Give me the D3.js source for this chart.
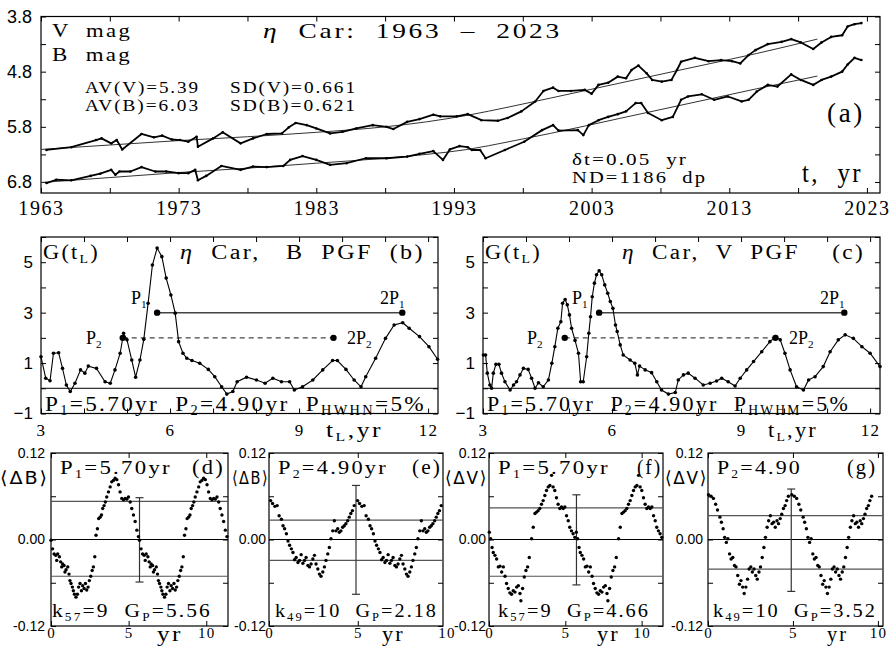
<!DOCTYPE html>
<html><head><meta charset="utf-8">
<script src="https://cdn.jsdelivr.net/npm/d3@7"></script>
<style>body{margin:0;background:#fff}</style>
</head><body>
<svg id="c" width="894" height="651" xmlns="http://www.w3.org/2000/svg"></svg>
<script>
// ---------------- DATA ----------------
// (a) light curves
const tV = [1963.4,1965.2,1967.0,1967.4,1968.1,1968.5,1968.9,1970.3,1971.2,1971.8,1972.5,1973.1,1973.7,1974.3,1974.4,1975.5,1976.2,1977.5,1978.4,1979.4,1980.5,1981.0,1981.5,1982.3,1983.0,1984.0,1984.9,1985.9,1987.1,1988.1,1988.6,1989.6,1990.5,1991.5,1992.0,1993.2,1994.0,1995.0,1996.2,1996.9,1997.9,1998.9,1999.5,2000.2,2000.6,2001.5,2002.5,2003.0,2003.5,2004.2,2004.9,2005.5,2005.9,2006.4,2007.0,2007.4,2008.1,2008.8,2009.2,2009.5,2010.5,2011.5,2012.4,2013.2,2013.8,2014.4,2014.9,2015.8,2016.8,2017.5,2018.2,2019.1,2019.7,2020.4,2021.2,2021.6,2022.1,2022.6];
const magV = [6.22,6.17,6.04,6.01,6.10,6.04,6.21,5.93,5.99,5.96,6.03,6.04,6.07,5.98,6.16,6.01,5.90,6.10,6.01,5.93,5.92,5.81,5.73,5.77,5.83,5.92,5.89,5.83,5.77,5.80,5.84,5.71,5.66,5.58,5.61,5.61,5.57,5.68,5.69,5.64,5.52,5.34,5.15,5.09,5.15,5.15,5.13,5.20,5.04,5.00,4.89,4.92,4.77,4.69,4.83,4.95,4.98,4.95,4.77,4.62,4.55,4.61,4.59,4.61,4.65,4.50,4.41,4.30,4.26,4.21,4.27,4.39,4.27,4.17,4.14,3.98,3.94,3.92];
const tB = [1963.4,1964.1,1965.2,1966.6,1967.3,1968.1,1968.4,1968.7,1969.5,1970.3,1971.3,1972.1,1973.0,1973.7,1974.2,1974.4,1975.0,1976.1,1977.5,1978.4,1979.4,1980.6,1981.1,1982.0,1983.0,1984.0,1985.2,1986.6,1988.1,1989.6,1990.5,1991.5,1992.2,1992.7,1993.4,1994.0,1994.3,1994.9,1995.3,1996.7,1998.1,1999.4,2000.2,2000.6,2002.0,2002.4,2002.8,2003.5,2004.2,2004.9,2005.5,2006.2,2006.6,2007.1,2008.1,2008.9,2009.5,2010.0,2011.0,2011.9,2012.9,2013.9,2014.4,2015.0,2015.8,2016.5,2017.5,2018.2,2019.1,2019.7,2020.4,2021.2,2021.6,2022.1,2022.6];
const magB = [6.82,6.76,6.77,6.69,6.65,6.58,6.67,6.61,6.61,6.53,6.61,6.61,6.64,6.64,6.58,6.77,6.69,6.51,6.58,6.52,6.53,6.51,6.40,6.33,6.40,6.49,6.46,6.37,6.37,6.34,6.29,6.24,6.40,6.21,6.15,6.17,6.22,6.22,6.37,6.22,6.07,5.86,5.77,5.87,5.86,5.95,5.77,5.68,5.62,5.57,5.52,5.37,5.37,5.55,5.68,5.62,5.31,5.25,5.21,5.31,5.25,5.34,5.31,5.16,5.04,5.07,4.85,4.95,5.04,4.95,4.89,4.80,4.67,4.55,4.59];
const tTrend = [1963,1968,1973,1978,1983,1988,1991,1994,1997,2000,2005,2010,2015,2019.4];
const trendV = [6.21,6.13,6.05,5.98,5.90,5.80,5.71,5.59,5.44,5.28,5.01,4.74,4.47,4.21];
const trendB = [6.81,6.72,6.63,6.55,6.46,6.37,6.30,6.21,6.07,5.92,5.65,5.38,5.11,4.88];
const yearTicks = [1963,1973,1983,1993,2003,2013,2023];
const magTicks = [3.8,4.8,5.8,6.8];

// (b) B PGF
const tLB = [3.00,3.11,3.21,3.29,3.41,3.50,3.59,3.68,3.79,3.92,4.02,4.10,4.29,4.49,4.61,4.72,4.84,4.92,5.00,5.11,5.20,5.30,5.39,5.49,5.59,5.70,5.81,5.91,6.02,6.12,6.20,6.30,6.39,6.51,6.69,6.89,7.04,7.20,7.32,7.46,7.56,7.78,8.01,8.21,8.39,8.59,8.78,8.89,9.08,9.32,9.55,9.78,9.89,10.09,10.28,10.44,10.55,10.78,11.01,11.21,11.41,11.56,11.80,12.02,12.22];
const GB  = [1.25,0.40,0.30,1.39,1.41,0.79,0.13,-0.13,0.20,0.73,0.60,0.88,0.79,0.26,0.20,0.73,1.39,2.18,1.92,1.12,0.44,1.12,1.94,3.37,4.89,5.56,5.22,4.37,3.70,2.98,1.85,1.39,1.19,1.10,0.99,0.75,0.46,0.06,-0.23,-0.13,0.26,0.44,0.33,0.20,0.40,0.26,0.26,-0.07,0.06,0.33,0.73,1.10,1.10,0.75,0.33,0.06,0.46,1.19,1.98,2.51,2.60,2.38,2.05,1.65,1.15];
// (c) V PGF
const tLV = [3.01,3.06,3.10,3.16,3.20,3.24,3.30,3.37,3.43,3.51,3.63,3.71,3.78,3.86,3.94,4.05,4.13,4.21,4.29,4.40,4.52,4.60,4.67,4.74,4.81,4.85,4.91,4.96,5.01,5.06,5.14,5.22,5.27,5.33,5.41,5.46,5.50,5.54,5.59,5.64,5.70,5.76,5.83,5.90,5.96,6.02,6.08,6.12,6.19,6.26,6.42,6.53,6.59,6.64,6.77,6.92,7.04,7.15,7.31,7.47,7.54,7.66,7.77,7.93,8.12,8.28,8.43,8.55,8.70,8.86,8.98,9.13,9.29,9.48,9.67,9.81,9.91,10.02,10.14,10.29,10.45,10.57,10.72,10.91,11.07,11.26,11.42,11.61,11.81,12.00,12.23];
const GV  = [1.32,1.32,0.60,0.13,0.00,0.60,0.95,0.95,0.60,0.26,-0.07,0.13,0.26,0.53,0.79,0.75,0.40,0.00,0.22,0.06,0.33,0.99,1.65,2.38,2.64,3.37,3.52,3.31,2.91,2.38,1.90,1.39,0.26,0.26,1.25,2.18,2.84,3.63,4.17,4.50,4.66,4.50,4.10,3.77,3.44,3.17,2.51,2.25,1.72,1.32,1.12,0.99,0.53,0.88,0.73,0.62,0.26,-0.07,-0.23,-0.17,0.33,0.53,0.60,0.40,0.13,0.20,0.29,0.40,0.26,0.09,0.40,0.73,1.06,1.45,1.85,2.05,1.92,1.39,0.73,0.06,-0.07,0.33,0.46,0.86,1.45,1.92,2.12,1.98,1.65,1.39,0.86];
const P1 = 5.70, P2 = 4.90;
const pgfXTicks = [3,6,9,12];
const pgfYTicks = [-1,1,3,5];

// (d)-(g) phase curves, one cycle each (repeated for the second cycle)
const phD = [0.00,0.10,0.20,0.30,0.37,0.43,0.54,0.62,0.69,0.75,0.84,0.90,0.97,1.08,1.16,1.22,1.29,1.38,1.44,1.51,1.61,1.70,1.78,1.87,1.96,2.04,2.13,2.22,2.30,2.39,2.47,2.56,2.65,2.73,2.82,2.90,2.99,3.07,3.16,3.25,3.33,3.42,3.50,3.59,3.70,3.81,3.91,4.02,4.13,4.24,4.35,4.45,4.56,4.67,4.78,4.88,4.99,5.10,5.20,5.31,5.42,5.53,5.63];
const dBD = [-0.001,-0.013,-0.020,-0.022,-0.029,-0.020,-0.024,-0.031,-0.038,-0.034,-0.036,-0.045,-0.042,-0.038,-0.048,-0.057,-0.061,-0.066,-0.071,-0.076,-0.080,-0.076,-0.066,-0.061,-0.071,-0.064,-0.068,-0.061,-0.070,-0.066,-0.057,-0.051,-0.043,-0.038,-0.024,0.006,0.015,0.029,0.031,0.034,0.043,0.047,0.052,0.059,0.066,0.073,0.080,0.082,0.085,0.083,0.076,0.066,0.057,0.055,0.057,0.056,0.059,0.052,0.043,0.034,0.025,0.013,0.004];
const phE = [0.09,0.20,0.33,0.46,0.57,0.70,0.79,0.88,0.98,1.07,1.16,1.26,1.35,1.44,1.53,1.63,1.72,1.81,1.91,2.00,2.09,2.19,2.28,2.37,2.47,2.56,2.65,2.75,2.84,2.93,3.03,3.12,3.21,3.31,3.40,3.49,3.59,3.68,3.77,3.87,3.96,4.05,4.15,4.24,4.33,4.43,4.52,4.61,4.70,4.80];
const dBE = [0.054,0.050,0.046,0.047,0.033,0.028,0.019,0.015,0.008,-0.002,-0.008,-0.013,-0.018,-0.028,-0.025,-0.032,-0.029,-0.021,-0.033,-0.029,-0.025,-0.036,-0.038,-0.034,-0.027,-0.022,-0.034,-0.041,-0.048,-0.051,-0.045,-0.038,-0.029,-0.020,-0.011,0.001,0.012,0.026,0.012,0.015,0.010,0.012,0.017,0.019,0.022,0.026,0.031,0.036,0.040,0.047];
const phF = [0.02,0.11,0.20,0.28,0.39,0.50,0.61,0.72,0.83,0.94,1.05,1.15,1.26,1.37,1.48,1.59,1.70,1.81,1.92,2.03,2.09,2.20,2.31,2.42,2.53,2.64,2.79,2.90,3.01,3.12,3.22,3.33,3.44,3.55,3.66,3.77,3.88,3.99,4.10,4.20,4.31,4.42,4.53,4.64,4.75,4.86,4.97,5.08,5.19,5.29,5.40,5.51,5.62];
const dVF = [0.010,0.001,-0.011,-0.018,-0.022,-0.027,-0.038,-0.037,-0.045,-0.038,-0.051,-0.061,-0.068,-0.074,-0.076,-0.071,-0.073,-0.066,-0.064,-0.075,-0.085,-0.068,-0.052,-0.043,-0.038,-0.025,0.001,0.017,0.036,0.038,0.040,0.043,0.049,0.054,0.061,0.068,0.073,0.075,0.089,0.073,0.068,0.058,0.049,0.043,0.045,0.043,0.045,0.033,0.026,0.017,0.012,0.008,0.003];
const phG = [0.03,0.18,0.32,0.45,0.56,0.70,0.79,0.89,0.98,1.08,1.17,1.27,1.36,1.46,1.56,1.65,1.75,1.85,1.94,2.04,2.13,2.23,2.33,2.42,2.52,2.61,2.71,2.81,2.90,3.00,3.09,3.19,3.29,3.38,3.48,3.57,3.67,3.77,3.86,3.96,4.06,4.15,4.25,4.34,4.44,4.54,4.63,4.73];
const dVG = [0.062,0.060,0.057,0.049,0.041,0.031,0.024,0.015,0.003,-0.004,0.001,-0.020,-0.027,-0.025,-0.036,-0.038,-0.050,-0.062,-0.057,-0.066,-0.075,-0.066,-0.055,-0.041,-0.038,-0.045,-0.041,-0.050,-0.055,-0.045,-0.038,-0.025,-0.011,0.003,0.017,0.026,0.033,0.022,0.024,0.017,0.026,0.022,0.029,0.035,0.043,0.047,0.054,0.060];
const sdLines = {d:[0.053,-0.051], e:[0.027,-0.029], f:[0.044,-0.051], g:[0.033,-0.041]};
const errBars = {d:[5.70,0.058,-0.059], e:[4.90,0.075,-0.076], f:[5.73,0.062,-0.063], g:[4.90,0.070,-0.072]};
const phaseXTicks = [0,5,10];
const phaseYTicks = [-0.12,0.00,0.12];

// ---------------- DRAW ----------------
const SERIF = '"Liberation Serif","Times New Roman",serif';
const SANS = '"Liberation Sans",Arial,sans-serif';
const svg = d3.select("#c");
svg.append("rect").attr("width",894).attr("height",651).attr("fill","#fff");

function addText(x, y, parts, size, width, family) {
  const t = svg.append("text").attr("x",x).attr("y",y).attr("font-size",size)
    .attr("font-family", family||SERIF).attr("fill","#000").style("white-space","pre");
  if (width) t.style("letter-spacing","0.1em");
  let sub = false;
  parts.forEach(p => {
    let s = p, kind = 'n';
    if (Array.isArray(p)) { s = p[0]; kind = p[1]; }
    const ts = t.append("tspan").text(s);
    if (kind === 'i') ts.attr("font-style","italic");
    if (kind === 's') { ts.attr("font-size", size*0.62).attr("dy", size*0.22); sub = true; }
    else if (sub) { ts.attr("dy", -size*0.22); sub = false; }
  });
  if (width) t.attr("textLength", width).attr("lengthAdjust","spacingAndGlyphs");
  return t;
}

function frame(x, y, c) {
  const g = svg.append("g");
  const [x0,x1] = x.range(), [yb,yt] = y.range();
  const inX = v => v >= Math.min(...x.domain())-1e-9 && v <= Math.max(...x.domain())+1e-9;
  const inY = v => v >= Math.min(...y.domain())-1e-9 && v <= Math.max(...y.domain())+1e-9;
  const strip = s => s.call(q => q.select(".domain").remove());
  const tk = c.tickLen || 5;
  const xt = c.xTicks.filter(inX), yt2 = c.yTicks.filter(inY);
  g.append("g").attr("transform",`translate(0,${yb})`).call(d3.axisBottom(x).tickValues(xt).tickSize(-tk).tickFormat("")).call(strip);
  g.append("g").attr("transform",`translate(0,${yt})`).call(d3.axisTop(x).tickValues(xt).tickSize(-tk).tickFormat("")).call(strip);
  g.append("g").attr("transform",`translate(${x0},0)`).call(d3.axisLeft(y).tickValues(yt2).tickSize(-tk).tickFormat("")).call(strip);
  g.append("g").attr("transform",`translate(${x1},0)`).call(d3.axisRight(y).tickValues(yt2).tickSize(-tk).tickFormat("")).call(strip);
  g.selectAll(".tick line").attr("stroke","#000").attr("stroke-width",1);
  const lx = g.append("g").attr("transform",`translate(0,${yb})`)
    .call(d3.axisBottom(x).tickValues(c.xLabels).tickSize(0).tickPadding(c.xPad).tickFormat(c.xFmt)).call(strip);
  lx.selectAll("text").attr("font-family",SERIF).attr("font-size",c.xFs).attr("fill","#000").style("letter-spacing","0.08em");
  const ly = g.append("g").attr("transform",`translate(${x0},0)`)
    .call(d3.axisLeft(y).tickValues(c.yLabels).tickSize(0).tickPadding(c.yPad).tickFormat(c.yFmt)).call(strip);
  ly.selectAll("text").attr("font-family",SANS).attr("font-size",c.yFs).attr("fill","#000");
  g.append("rect").attr("x",x0).attr("y",yt).attr("width",x1-x0).attr("height",yb-yt)
    .attr("fill","none").attr("stroke","#000").attr("stroke-width",1.2);
  return g;
}

// ---- panel (a)
const xA = d3.scaleLinear().domain([1963, 2023.95]).range([41, 880]);
const yA = d3.scaleLinear().domain([7.0, 3.8]).range([193, 16.5]);
frame(xA, yA, {xTicks:d3.range(1963,2024,5), yTicks:d3.range(3.8,7.01,0.5), xLabels:yearTicks, yLabels:magTicks,
  xFmt:d3.format("d"), yFmt:d3.format(".1f"), xPad:8, yPad:9, xFs:20, yFs:18});
const gA = svg.append("g");
const lineA = d3.line().x(d=>xA(d[0])).y(d=>yA(d[1]));
[[tTrend,trendV],[tTrend,trendB]].forEach(([t,m]) => {
  gA.append("path").datum(t.map((v,i)=>[v,m[i]])).attr("d", d3.line().curve(d3.curveMonotoneX).x(d=>xA(d[0])).y(d=>yA(d[1])))
    .attr("fill","none").attr("stroke","#333").attr("stroke-width",1);
});
[[tV,magV],[tB,magB]].forEach(([t,m]) => {
  const pts = t.map((v,i)=>[v,m[i]]);
  gA.append("path").datum(pts).attr("d", lineA).attr("fill","none").attr("stroke","#000").attr("stroke-width",1.8).attr("stroke-linejoin","round");
  gA.selectAll(null).data(pts).enter().append("circle").attr("cx",d=>xA(d[0])).attr("cy",d=>yA(d[1])).attr("r",1.3).attr("fill","#000");
});
addText(52, 37, ["V  mag"], 19, 80);
addText(52, 61, ["B  mag"], 19, 80);
addText(263, 38, [["η",'i'], "  Car:  1963  –  2023"], 21, 299);
addText(85, 93, ["AV(V)=5.39"], 17, 115);
addText(230, 93, ["SD(V)=0.661"], 17, 127);
addText(85, 111, ["AV(B)=6.03"], 17, 115);
addText(230, 111, ["SD(B)=0.621"], 17, 127);
addText(827, 122, ["(a)"], 28, 38);
addText(572, 165, ["δt=0.05  yr"], 17, 116);
addText(572, 183, ["ND=1186  dp"], 17, 135);
addText(802, 182, ["t,  yr"], 28, 61);

// ---- panels (b),(c)
function pgfPanel(x0, x1, tl, G, title, titleX, titleW, lab) {
  const x = d3.scaleLinear().domain([3, 12.23]).range([x0, x1]);
  const y = d3.scaleLinear().domain([-1, 6]).range([413.5, 237]);
  frame(x, y, {xTicks:d3.range(3,13,1), yTicks:d3.range(-1,7,1), xLabels:pgfXTicks, yLabels:pgfYTicks,
    xFmt:d3.format("d"), yFmt:d=> d<0 ? "−"+Math.abs(d) : d, xPad:10, yPad:8, xFs:17, yFs:17});
  const g = svg.append("g");
  g.append("line").attr("x1",x0).attr("x2",x1).attr("y1",y(0)).attr("y2",y(0)).attr("stroke","#000").attr("stroke-width",1);
  g.append("line").attr("x1",x(P1)).attr("x2",x(2*P1)).attr("y1",y(3)).attr("y2",y(3)).attr("stroke","#444").attr("stroke-width",1.5);
  g.append("line").attr("x1",x(P2)).attr("x2",x(2*P2)).attr("y1",y(2)).attr("y2",y(2)).attr("stroke","#444").attr("stroke-width",1.2).attr("stroke-dasharray","5,4");
  const pts = tl.map((v,i)=>[v,G[i]]);
  g.append("path").datum(pts).attr("d", d3.line().x(d=>x(d[0])).y(d=>y(d[1]))).attr("fill","none").attr("stroke","#000").attr("stroke-width",1.1);
  g.selectAll(null).data(pts).enter().append("circle").attr("cx",d=>x(d[0])).attr("cy",d=>y(d[1])).attr("r",1.8).attr("fill","#000");
  [[P1,3],[2*P1,3],[P2,2],[2*P2,2]].forEach(d => g.append("circle").attr("cx",x(d[0])).attr("cy",y(d[1])).attr("r",3.2).attr("fill","#000"));
  addText(x0+2, 259, ["G(t", ["L",'s'], ")"], 20, 57);
  addText(titleX, 259, [["η",'i'], title], 20, titleW);
  addText(lab.p1, 304, ["P", ["1",'s']], 18);
  addText(lab.p1b, 304, ["2P", ["1",'s']], 18);
  addText(lab.p2, 344, ["P", ["2",'s']], 18);
  addText(lab.p2b, 344, ["2P", ["2",'s']], 18);
  addText(x0+4, 410.5, ["P", ["1",'s'], "=5.70yr  P", ["2",'s'], "=4.90yr  P", [lab.hw,'s'], "=5%"], 22, lab.botW);
  addText(lab.tl, 437, ["t", ["L",'s'], ",yr"], 20, lab.tlw);
}
pgfPanel(41, 438, tLB, GB, "  Car,   B  PGF  (b)", 180, 245, {p1:131,p1b:380,p2:86,p2b:347,hw:"HWHN",botW:381,tl:326,tlw:57});
pgfPanel(483, 880, tLV, GV, "  Car,  V  PGF    (c)", 622, 243, {p1:572,p1b:820,p2:527,p2b:789,hw:"HWHM",botW:363,tl:768,tlw:50});

// ---- panels (d)-(g)
function phasePanel(key, x0, x1, dom, P, ph, dv, yl, ylx, ylw, yPad, pTxt, pTxtX, pTxtW, tag, tagX, tagW, kTxt, kX, kW, yrX, yrW) {
  const x = d3.scaleLinear().domain(dom).range([x0, x1]);
  const y = d3.scaleLinear().domain([-0.12, 0.12]).range([626, 453]);
  frame(x, y, {xTicks:phaseXTicks, yTicks:d3.range(-0.12,0.121,0.06), xLabels:phaseXTicks, yLabels:phaseYTicks,
    xFmt:d3.format("d"), yFmt:d=> d<0 ? "-"+d3.format(".2f")(-d) : d3.format(".2f")(d), xPad:1, yPad:yPad, xFs:15, yFs:14});
  const g = svg.append("g");
  g.append("line").attr("x1",x0).attr("x2",x1).attr("y1",y(0)).attr("y2",y(0)).attr("stroke","#000").attr("stroke-width",1.2);
  sdLines[key].forEach(v => g.append("line").attr("x1",x0).attr("x2",x1).attr("y1",y(v)).attr("y2",y(v)).attr("stroke","#555").attr("stroke-width",1.2));
  const e = errBars[key];
  g.append("line").attr("x1",x(e[0])).attr("x2",x(e[0])).attr("y1",y(e[1])).attr("y2",y(e[2])).attr("stroke","#333").attr("stroke-width",1.2);
  [e[1],e[2]].forEach(v => g.append("line").attr("x1",x(e[0])-4).attr("x2",x(e[0])+4).attr("y1",y(v)).attr("y2",y(v)).attr("stroke","#333").attr("stroke-width",1.2));
  const pts = [];
  [0, P].forEach(off => ph.forEach((v,i) => pts.push([v+off, dv[i]])));
  g.selectAll(null).data(pts).enter().append("circle").attr("cx",d=>x(d[0])).attr("cy",d=>y(d[1])).attr("r",1.7).attr("fill","#000");
  addText(ylx, 484, ["⟨Δ"+yl+"⟩"], 18, ylw, '"DejaVu Sans",sans-serif');
  addText(pTxtX, 474, pTxt, 19, pTxtW);
  addText(tagX, 474, [tag], 21, tagW);
  addText(kX, 616.5, kTxt, 19, kW);
  addText(yrX, 641, ["yr"], 21, yrW);
}
phasePanel('d', 51, 228, [0, 2*P1], P1, phD, dBD, "B", 0, 49, 6, ["P",["1",'s'],"=5.70yr"], 60, 112, "(d)", 192, 33, ["k",["57",'s'],"=9  G",["P",'s'],"=5.56"], 52, 160, 157, 26);
phasePanel('e', 269, 443, [0, 2*P2], P2, phE, dBE, "B", 232, 37, 3, ["P",["2",'s'],"=4.90yr"], 278, 110, "(e)", 412, 30, ["k",["49",'s'],"=10  G",["P",'s'],"=2.18"], 275, 163, 382, 23);
phasePanel('f', 489, 663, [0, 2*P1], P1, phF, dVF, "V", 445, 43, 3, ["P",["1",'s'],"=5.70yr"], 498, 112, "(f)", 637, 25, ["k",["57",'s'],"=9  G",["P",'s'],"=4.66"], 498, 152, 597, 23);
phasePanel('g', 708, 883, [0, 10.3], P2, phG, dVG, "V", 665, 43, 5, ["P",["2",'s'],"=4.90"], 717, 85, "(g)", 847, 30, ["k",["49",'s'],"=10  G",["P",'s'],"=3.52"], 713, 164, 827, 21);
</script>
</body></html>
